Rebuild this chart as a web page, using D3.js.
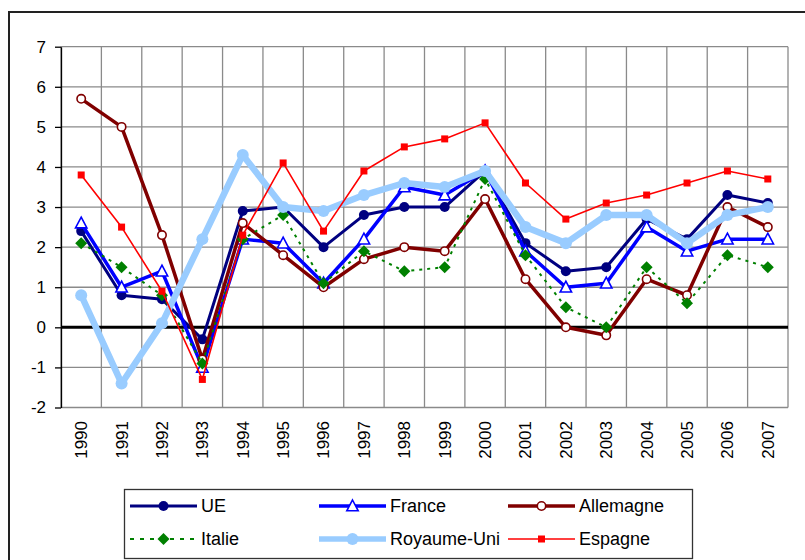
<!DOCTYPE html>
<html>
<head>
<meta charset="utf-8">
<script src="https://cdn.jsdelivr.net/npm/d3@7"></script>
<style>
  body { margin: 0; background: #fff; }
  svg { display: block; font-family: "Liberation Sans", Arial, sans-serif; }
</style>
</head>
<body>
<svg id="chart" width="805" height="560"></svg>
<script>
// data
var years = ['1990','1991','1992','1993','1994','1995','1996','1997','1998','1999',
             '2000','2001','2002','2003','2004','2005','2006','2007'];
var yTicks = [-2, -1, 0, 1, 2, 3, 4, 5, 6, 7];

var ue        = [2.4, 0.8, 0.7, -0.3, 2.9, 3.0, 2.0, 2.8, 3.0, 3.0, 3.9, 2.1, 1.4, 1.5, 2.7, 2.2, 3.3, 3.1];
var france    = [2.6, 1.0, 1.4, -1.0, 2.2, 2.1, 1.1, 2.2, 3.5, 3.3, 3.9, 1.9, 1.0, 1.1, 2.5, 1.9, 2.2, 2.2];
var allemagne = [5.7, 5.0, 2.3, -0.8, 2.6, 1.8, 1.0, 1.7, 2.0, 1.9, 3.2, 1.2, 0.0, -0.2, 1.2, 0.8, 3.0, 2.5];
var italie    = [2.1, 1.5, 0.8, -0.9, 2.2, 2.8, 1.1, 1.9, 1.4, 1.5, 3.7, 1.8, 0.5, 0.0, 1.5, 0.6, 1.8, 1.5];
var royaumeUni = [0.8, -1.4, 0.1, 2.2, 4.3, 3.0, 2.9, 3.3, 3.6, 3.5, 3.9, 2.5, 2.1, 2.8, 2.8, 2.1, 2.8, 3.0];
var espagne   = [3.8, 2.5, 0.9, -1.3, 2.3, 4.1, 2.4, 3.9, 4.5, 4.7, 5.1, 3.6, 2.7, 3.1, 3.3, 3.6, 3.9, 3.7];

var seriesNames = ['UE', 'France', 'Allemagne', 'Italie', 'Royaume-Uni', 'Espagne'];

var series = [
  { name: seriesNames[0], values: ue,         color: '#000080', width: 3,   marker: 'dot',      size: 5 },
  { name: seriesNames[1], values: france,     color: '#0000ff', width: 3.5, marker: 'triangle', size: 6 },
  { name: seriesNames[2], values: allemagne,  color: '#800000', width: 3.5, marker: 'ring',     size: 4.2 },
  { name: seriesNames[3], values: italie,     color: '#008000', width: 2,   marker: 'diamond',  size: 6, dash: '3,5' },
  { name: seriesNames[4], values: royaumeUni, color: '#99ccff', width: 6.5, marker: 'dot',      size: 6 },
  { name: seriesNames[5], values: espagne,    color: '#ff0000', width: 1.6, marker: 'square',   size: 3.5 }
];

var svg = d3.select('#chart');

// outer chart border
svg.append('rect')
  .attr('x', 9).attr('y', 12)
  .attr('width', 820).attr('height', 600)
  .attr('fill', 'none')
  .attr('stroke', '#222')
  .attr('stroke-width', 2);

var x = d3.scaleBand().domain(years).range([61, 788]).padding(0);
var y = d3.scaleLinear().domain([-2, 7]).range([407.5, 46.7]);

var grid = svg.append('g');
grid.selectAll('line.h')
  .data(yTicks)
  .enter().append('line')
  .attr('x1', 61).attr('x2', 788)
  .attr('y1', function(d) { return y(d); })
  .attr('y2', function(d) { return y(d); })
  .attr('stroke', '#8a8a8a')
  .attr('stroke-width', 1.3);

var bounds = years.map(function(d) { return x(d); }).concat([788]);
grid.selectAll('line.v')
  .data(bounds)
  .enter().append('line')
  .attr('x1', function(d) { return d; })
  .attr('x2', function(d) { return d; })
  .attr('y1', y(7)).attr('y2', y(-2))
  .attr('stroke', '#8a8a8a')
  .attr('stroke-width', 1.3);

// y axis
var yAxis = svg.append('g')
  .attr('transform', 'translate(61,0)')
  .call(d3.axisLeft(y).tickValues(yTicks).tickSize(6).tickPadding(9).tickSizeOuter(0)
    .tickFormat(function(d) { return String(d); }));
yAxis.select('.domain').attr('stroke', '#000').attr('stroke-width', 1.3);
yAxis.selectAll('.tick line').attr('stroke', '#000').attr('stroke-width', 1.3);
yAxis.selectAll('text')
  .attr('font-size', 17)
  .attr('font-family', '"Liberation Sans", Arial, sans-serif')
  .attr('fill', '#000');

// zero line
svg.append('line')
  .attr('x1', 61).attr('x2', 788)
  .attr('y1', y(0)).attr('y2', y(0))
  .attr('stroke', '#000')
  .attr('stroke-width', 3);

// x labels (rotated)
svg.append('g').selectAll('text')
  .data(years)
  .enter().append('text')
  .attr('transform', function(d) {
    return 'translate(' + (x(d) + x.bandwidth() / 2) + ',421) rotate(-90)';
  })
  .attr('text-anchor', 'end')
  .attr('dy', '0.35em')
  .attr('font-size', 17)
  .attr('fill', '#000')
  .text(function(d) { return d; });

function drawMarker(g, s, cx, cy) {
  var r = s.size;
  if (s.marker == 'dot') {
    g.append('circle').attr('cx', cx).attr('cy', cy).attr('r', r).attr('fill', s.color);
  } else if (s.marker == 'ring') {
    g.append('circle').attr('cx', cx).attr('cy', cy).attr('r', r)
      .attr('fill', '#fff').attr('stroke', s.color).attr('stroke-width', 1.6);
  } else if (s.marker == 'triangle') {
    g.append('path')
      .attr('d', 'M' + cx + ',' + (cy - r) + 'L' + (cx + r * 0.95) + ',' + (cy + r * 0.8) +
                 'L' + (cx - r * 0.95) + ',' + (cy + r * 0.8) + 'Z')
      .attr('fill', '#fff').attr('stroke', s.color).attr('stroke-width', 1.6);
  } else if (s.marker == 'diamond') {
    g.append('path')
      .attr('d', 'M' + cx + ',' + (cy - r) + 'L' + (cx + r) + ',' + cy +
                 'L' + cx + ',' + (cy + r) + 'L' + (cx - r) + ',' + cy + 'Z')
      .attr('fill', s.color);
  } else if (s.marker == 'square') {
    g.append('rect').attr('x', cx - r).attr('y', cy - r)
      .attr('width', 2 * r).attr('height', 2 * r).attr('fill', s.color);
  }
}

var line = d3.line()
  .x(function(d, i) { return x(years[i]) + x.bandwidth() / 2; })
  .y(function(d) { return y(d); });

series.forEach(function(s) {
  var g = svg.append('g');
  g.append('path')
    .attr('d', line(s.values))
    .attr('fill', 'none')
    .attr('stroke', s.color)
    .attr('stroke-width', s.width)
    .attr('stroke-linejoin', 'round')
    .attr('stroke-dasharray', s.dash || null);
  s.values.forEach(function(v, i) {
    drawMarker(g, s, x(years[i]) + x.bandwidth() / 2, y(v));
  });
});

// legend
var legend = svg.append('g');
legend.append('rect')
  .attr('x', 124.5).attr('y', 489.5)
  .attr('width', 568).attr('height', 69)
  .attr('fill', '#fff')
  .attr('stroke', '#333')
  .attr('stroke-width', 1.3);

var colX = [130, 319, 508];
var rowY = [506, 539];
series.forEach(function(s, i) {
  var lx = colX[i % 3], ly = rowY[Math.floor(i / 3)];
  var item = legend.append('g');
  item.append('line')
    .attr('x1', lx).attr('x2', lx + 67)
    .attr('y1', ly).attr('y2', ly)
    .attr('stroke', s.color)
    .attr('stroke-width', s.name == 'Royaume-Uni' ? 5.5 : s.width)
    .attr('stroke-dasharray', s.name == 'Italie' ? '4,6' : null);
  drawMarker(item, s, lx + 33.5, ly);
  item.append('text')
    .attr('x', lx + 71).attr('y', ly)
    .attr('dy', '0.36em')
    .attr('font-size', 18)
    .attr('fill', '#000')
    .text(s.name);
});
</script>
</body>
</html>
